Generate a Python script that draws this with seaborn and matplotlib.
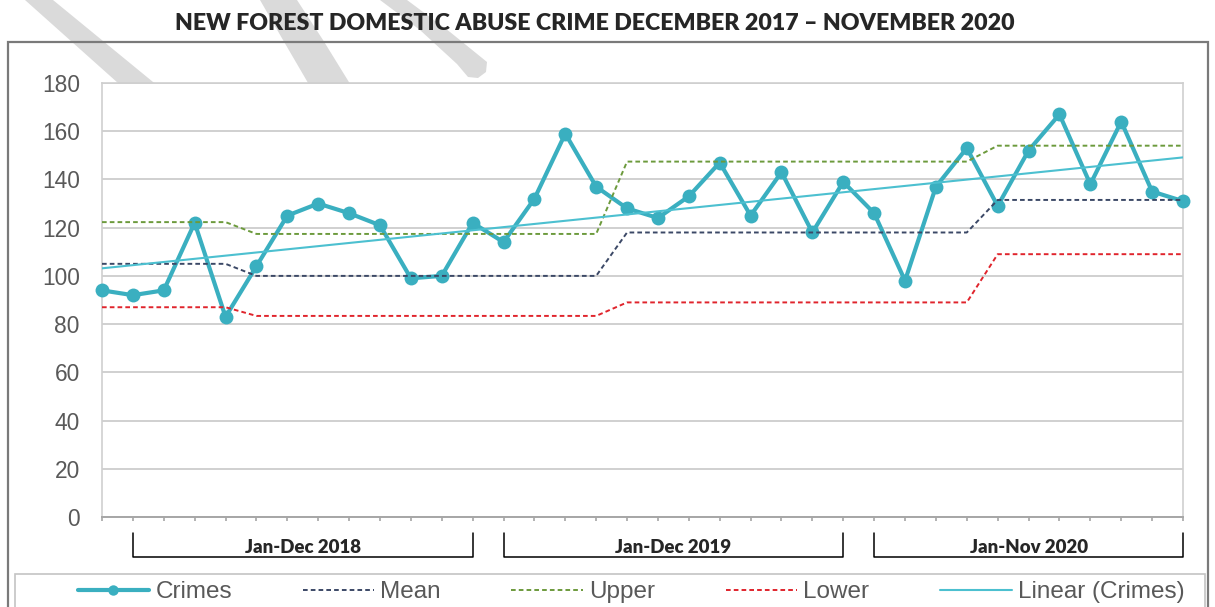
"""
New Forest domestic abuse crime, Dec 2017 - Nov 2020
Control chart: monthly crimes, mean / upper / lower limits and linear trend.
"""

import numpy as np
import pandas as pd
import matplotlib
matplotlib.use('Agg')
import matplotlib.pyplot as plt
from matplotlib.patches import Polygon, Rectangle
import seaborn as sns

# ---- data ----
months = list(pd.date_range('2017-12-01', periods=36, freq='MS').strftime('%b %Y'))

crimes = [94, 92, 94, 122, 83, 104, 125, 130, 126, 121, 99, 100,
          122, 114, 132, 159, 137, 128, 124, 133, 147, 125, 143, 118,
          139, 126, 98, 137, 153, 129, 152, 167, 138, 164, 135, 131]

mean = [105, 105, 105, 105, 105,
        100, 100, 100, 100, 100, 100, 100, 100, 100, 100, 100, 100,
        118, 118, 118, 118, 118, 118, 118, 118, 118, 118, 118, 118,
        131.5, 131.5, 131.5, 131.5, 131.5, 131.5, 131.5]

upper = [122.3, 122.3, 122.3, 122.3, 122.3,
         117.4, 117.4, 117.4, 117.4, 117.4, 117.4, 117.4, 117.4, 117.4, 117.4, 117.4, 117.4,
         147.4, 147.4, 147.4, 147.4, 147.4, 147.4, 147.4, 147.4, 147.4, 147.4, 147.4, 147.4,
         154, 154, 154, 154, 154, 154, 154]

lower = [87, 87, 87, 87, 87,
         83.4, 83.4, 83.4, 83.4, 83.4, 83.4, 83.4, 83.4, 83.4, 83.4, 83.4, 83.4,
         89, 89, 89, 89, 89, 89, 89, 89, 89, 89, 89, 89,
         109, 109, 109, 109, 109, 109, 109]

year_labels = ['Jan-Dec 2018', 'Jan-Dec 2019', 'Jan-Nov 2020']
year_spans = [('Jan 2018', 'Dec 2018'), ('Jan 2019', 'Dec 2019'), ('Jan 2020', 'Nov 2020')]

yticks = [0, 20, 40, 60, 80, 100, 120, 140, 160, 180]

df = pd.DataFrame({'month': months, 'crimes': crimes, 'mean': mean,
                   'upper': upper, 'lower': lower})
df['pos'] = np.arange(len(df))

# ---- style ----
sns.set_style('white')
plt.rcParams['font.family'] = ['Liberation Sans', 'DejaVu Sans']

W, H = 1215, 607
fig = plt.figure(figsize=(W / 100, H / 100), dpi=100)


def fx(px):
    return px / W


def fy(py):
    return 1 - py / H


# grey watermark stripes behind the chart
stripes = [
    [(25, 0), (53, 0), (175, 100), (137, 100)],
    [(260, 0), (297, 0), (323, 40), (360, 100), (318, 100), (283, 40)],
    [(380, 0), (407, 0), (450, 32), (487, 62), (486, 72), (478, 78),
     (468, 77), (457, 64), (420, 30)],
]
for pts in stripes:
    fig.patches.append(Polygon([(fx(x), fy(y)) for x, y in pts], closed=True,
                               transform=fig.transFigure, facecolor='#dadada',
                               edgecolor='none', zorder=-5))

# outer chart frame and legend box
fig.patches.append(Rectangle((fx(8), fy(625)), fx(1208) - fx(8), fy(42) - fy(625),
                             transform=fig.transFigure, fill=False,
                             edgecolor='#7a7a7a', lw=1.6, zorder=-4))
fig.patches.append(Rectangle((fx(15), fy(620)), fx(1205) - fx(15), fy(574) - fy(620),
                             transform=fig.transFigure, fill=False,
                             edgecolor='#c4c4c4', lw=1.2, zorder=-4))

ax = fig.add_axes([fx(102), fy(517), fx(1183) - fx(102), fy(83) - fy(517)])
ax.set_facecolor('white')

teal = '#3aafc0'
sns.lineplot(data=df, x='pos', y='crimes', ax=ax, color=teal, lw=3,
             marker='o', markersize=10, markeredgewidth=0, label='Crimes',
             clip_on=False, zorder=3)
sns.lineplot(data=df, x='pos', y='mean', ax=ax, color='#3b4866', lw=1.4,
             linestyle=(0, (2.4, 1.6)), label='Mean', zorder=4)
sns.lineplot(data=df, x='pos', y='upper', ax=ax, color='#6c9a3c', lw=1.4,
             linestyle=(0, (2.4, 1.6)), label='Upper', zorder=4)
sns.lineplot(data=df, x='pos', y='lower', ax=ax, color='#e0242c', lw=1.4,
             linestyle=(0, (2.4, 1.6)), label='Lower', zorder=4)
sns.regplot(data=df, x='pos', y='crimes', ax=ax, scatter=False, ci=None,
            label='Linear (Crimes)',
            line_kws={'color': '#4cc0d0', 'lw': 1.5, 'zorder': 5})

ax.set_xlim(0, len(df) - 1)
ax.set_ylim(0, 180)
ax.set_yticks(yticks)
ax.set_xticks(df['pos'])
ax.set_xticklabels([])
ax.set_xlabel('')
ax.set_ylabel('')
ax.yaxis.grid(True, color='#d0d0d0', lw=1.4)
ax.xaxis.grid(False)
for side in ['left', 'right', 'top']:
    ax.spines[side].set_color('#cfcfcf')
    ax.spines[side].set_linewidth(1.2)
ax.spines['bottom'].set_color('#a6a6a6')
ax.spines['bottom'].set_linewidth(1.4)
ax.tick_params(axis='y', length=2, color='#bfbfbf', pad=14,
               labelsize=16.4, labelcolor='#595959')
ax.tick_params(axis='x', length=3, color='#a6a6a6', width=1.2, bottom=True)

# year brackets under the axis
xt = ax.get_xaxis_transform()
y_top, y_bot, y_txt = -0.037, -0.092, -0.071
for lab, (start, end) in zip(year_labels, year_spans):
    x0, x1 = months.index(start), months.index(end)
    ax.plot([x0, x0, x1, x1], [y_top, y_bot, y_bot, y_top], transform=xt,
            color='black', lw=1.1, clip_on=False)
    ax.text((x0 + x1) / 2, y_txt, lab, transform=xt, ha='center', va='center',
            fontsize=13.4, fontweight='heavy', family=['Lato', 'DejaVu Sans'])

handles, labels = ax.get_legend_handles_labels()
ax.legend(handles, labels, loc='center', ncol=5, frameon=False,
          bbox_to_anchor=(fx(631), fy(592)), bbox_transform=fig.transFigure,
          fontsize=17.5, labelcolor='#595959', handlelength=2.95,
          handletextpad=0.25, columnspacing=2.9, markerscale=0.75)

fig.text(fx(595), fy(23), 'NEW FOREST DOMESTIC ABUSE CRIME DECEMBER 2017 \u2013 NOVEMBER 2020',
         ha='center', va='center', fontsize=16.7, fontweight='heavy',
         family=['Lato', 'DejaVu Sans'])

fig.savefig('out.png', dpi=100)
plt.close(fig)
